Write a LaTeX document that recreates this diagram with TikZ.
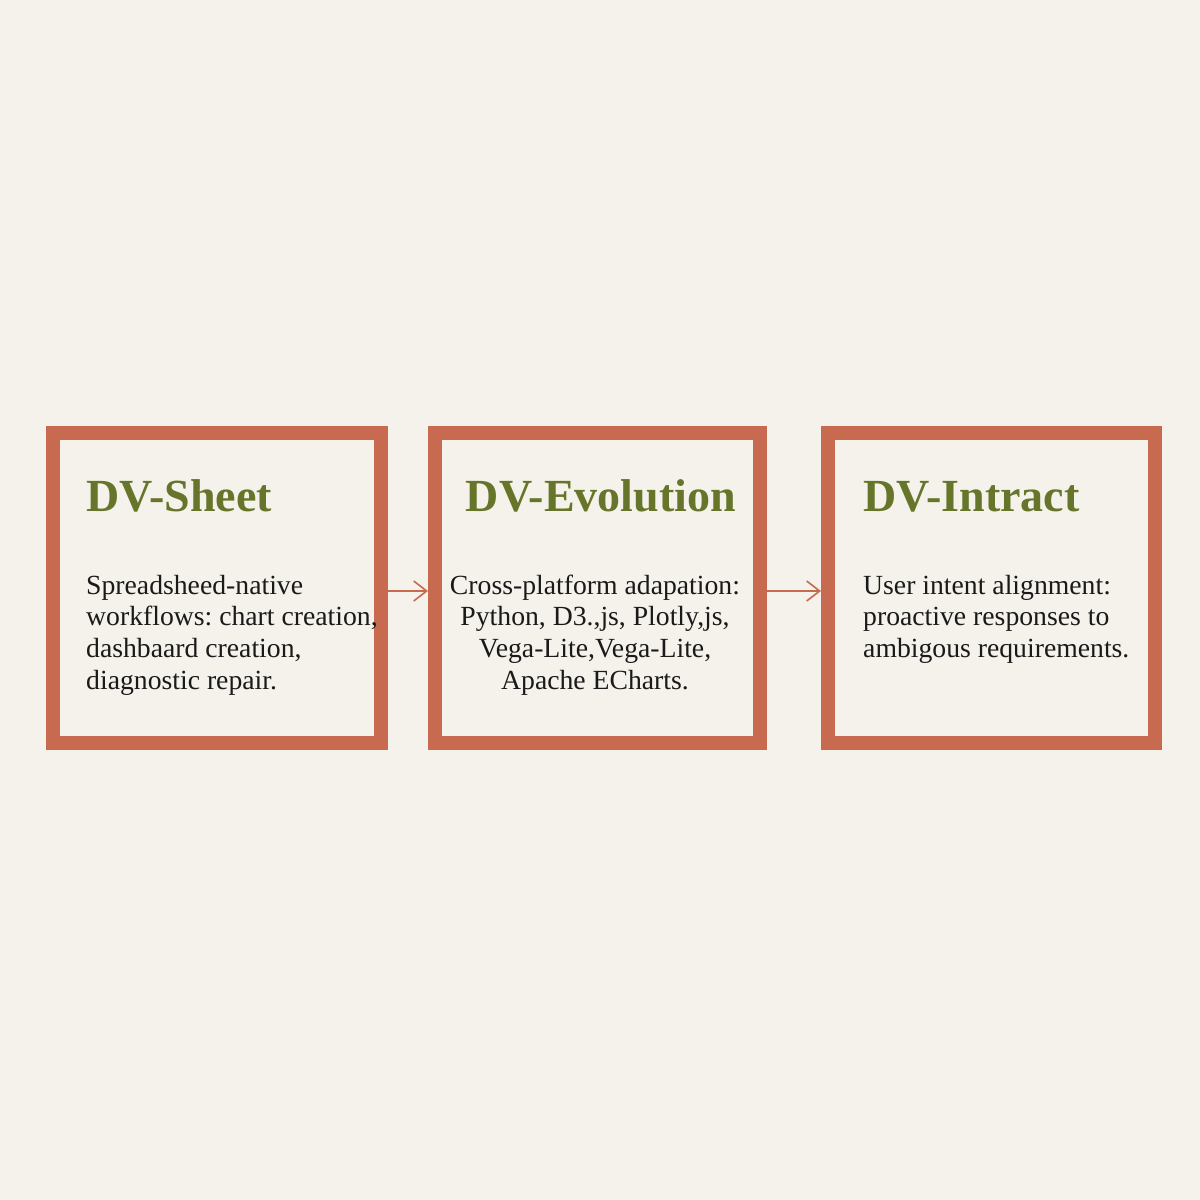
\documentclass[tikz,border=0pt]{standalone}
\usepackage{fontspec}
\setmainfont{Liberation Serif}
\usetikzlibrary{arrows.meta}
\definecolor{bgc}{HTML}{F4F2EA}
\definecolor{boxc}{HTML}{C86A50}
\definecolor{titc}{HTML}{66752A}
\definecolor{txtc}{HTML}{1A1A1A}
\tikzset{
  panel/.style={draw=boxc, line width=14pt, fill=bgc},
  ttl/.style={inner sep=0pt, text=titc, font=\fontsize{46}{50}\selectfont\bfseries},
  body/.style={inner sep=0pt, text=txtc, font=\fontsize{27.7}{31.7}\selectfont\frenchspacing},
  link/.style={draw=boxc, line width=1.6pt, -{Straight Barb[length=13pt,width=20pt,line width=1.6pt]}}
}
\begin{document}
\begin{tikzpicture}[x=1pt,y=-1pt]
\useasboundingbox[fill=bgc] (0,0) rectangle (1200,1200);
% boxes
\path[panel] (53,433) rectangle (381,743);
\path[panel] (435,433) rectangle (760,743);
\path[panel] (828,433) rectangle (1155,743);
\coordinate (b1r) at (388,591);
\coordinate (b2l) at (428,591);
\coordinate (b2r) at (767,591);
\coordinate (b3l) at (821,591);
% titles
\node[ttl, anchor=base west] (t1) at (86,511) {DV-Sheet};
\node[ttl, anchor=base] (t2) at (601,511) {DV-Evolution};
\node[ttl, anchor=base west] (t3) at (863,511) {DV-Intract};
% bodies
\node[body, anchor=base west] (d1) at (86,594) {\parbox[t]{320pt}{\raggedright Spreadsheed-native\\workflows: chart creation,\\dashbaard creation,\\diagnostic repair.}};
\node[body, anchor=base] (d2) at (595,594) {\parbox[t]{340pt}{\centering Cross-platform adapation:\\Python, D3.,js, Plotly,js,\\Vega-Lite,Vega-Lite,\\Apache ECharts.}};
\node[body, anchor=base west] (d3) at (863,594) {\parbox[t]{320pt}{\raggedright User intent alignment:\\proactive responses to\\ambigous requirements.}};
% arrows
\draw[link] (b1r) -- (b2l);
\draw[link] (b2r) -- (b3l);
\end{tikzpicture}
\end{document}
